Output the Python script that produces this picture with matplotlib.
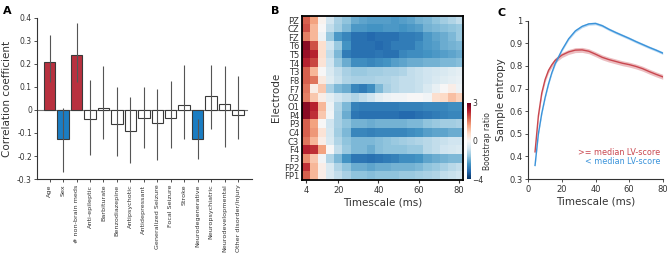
import numpy as np
import matplotlib
matplotlib.use("Agg")
import matplotlib.pyplot as plt
from matplotlib.colors import TwoSlopeNorm

# ---- panel A data ----
categories = ["Age", "Sex", "# non-brain meds", "Anti-epileptic", "Barbiturate",
              "Benzodiazepine", "Antipsychotic", "Antidepressant",
              "Generalized Seizure", "Focal Seizure", "Stroke",
              "Neurodegenerative", "Neuropsychiatric", "Neurodevelopmental",
              "Other disorder/injury"]
corr = [0.21, -0.127, 0.237, -0.039, 0.008, -0.062, -0.093, -0.034,
        -0.055, -0.034, 0.02, -0.127, 0.06, 0.024, -0.022]
ci_low = [0.12, -0.268, 0.12, -0.196, -0.126, -0.199, -0.229, -0.167,
          -0.217, -0.167, -0.127, -0.214, -0.084, -0.16, -0.127]
ci_high = [0.326, 0.01, 0.377, 0.13, 0.192, 0.1, 0.056, 0.1,
           0.092, 0.126, 0.195, -0.04, 0.196, 0.191, 0.148]
bar_kind = ["pos", "neg", "pos", "ns", "ns", "ns", "ns", "ns",
            "ns", "ns", "ns", "neg", "ns", "ns", "ns"]

# ---- panel B data ----
electrodes = ["PZ", "CZ", "FZ", "T6", "T5", "T4", "T3", "F8", "F7", "O2",
              "O1", "P4", "P3", "C4", "C3", "F4", "F3", "FP2", "FP1"]
timescales = [4, 8, 12, 16, 20, 24, 28, 32, 36, 40,
              44, 48, 52, 56, 60, 64, 68, 72, 76, 80]
bsr = [
    [1.8, 1.2, 0.1, -0.8, -1.3, -1.6, -2.0, -2.1, -2.2, -2.2, -2.2, -2.3, -2.2, -2.1, -1.9, -1.8, -1.6, -1.4, -1.2, -1.0],
    [1.9, 1.0, 0.0, -1.0, -1.4, -1.8, -2.3, -2.3, -2.4, -2.4, -2.3, -2.3, -2.4, -2.3, -2.2, -1.9, -1.8, -1.7, -1.6, -1.5],
    [1.5, 1.0, -0.2, -1.5, -2.3, -2.6, -3.0, -3.0, -3.1, -3.0, -3.0, -3.0, -2.8, -2.8, -2.7, -2.3, -2.1, -2.0, -1.8, -1.5],
    [2.7, 1.9, 0.5, -0.8, -1.5, -2.4, -3.0, -3.0, -3.0, -3.1, -3.0, -2.8, -2.8, -2.8, -2.5, -2.3, -2.2, -2.0, -1.9, -1.8],
    [2.6, 2.3, 0.5, -1.0, -1.8, -2.8, -3.0, -3.0, -3.0, -2.9, -3.0, -3.0, -2.6, -2.5, -2.5, -2.4, -2.3, -2.2, -2.1, -2.0],
    [2.3, 2.0, 0.4, -0.8, -1.5, -2.0, -2.5, -2.5, -2.6, -2.5, -2.4, -2.2, -2.1, -2.0, -2.0, -1.9, -1.9, -1.8, -1.8, -1.7],
    [1.8, 1.0, 0.0, -0.6, -1.0, -1.3, -1.5, -1.5, -1.4, -1.4, -1.3, -1.3, -1.2, -1.0, -0.9, -0.8, -0.7, -0.6, -0.5, -0.4],
    [1.8, 1.6, 0.3, -0.5, -0.9, -1.2, -1.3, -1.3, -1.3, -1.2, -1.2, -1.1, -1.0, -1.0, -0.9, -0.8, -0.6, -0.5, -0.4, -0.3],
    [1.6, 0.2, 0.8, -1.3, -1.8, -2.0, -2.6, -2.8, -2.5, -1.8, -1.3, -1.1, -1.0, -1.0, -0.9, -0.6, -0.3, 0.0, 0.2, -0.2],
    [1.5, 0.8, 0.2, -0.4, -0.8, -1.0, -1.2, -1.0, -0.8, -0.4, -0.2, -0.1, -0.1, 0.0, 0.0, -0.1, 0.5, 0.6, 0.9, 0.7],
    [2.7, 2.3, 1.0, -0.2, -1.2, -1.8, -2.7, -2.8, -2.8, -2.8, -2.8, -2.8, -2.7, -2.7, -2.7, -2.6, -2.6, -2.6, -2.5, -2.5],
    [2.7, 2.2, 0.8, -0.1, -1.3, -2.0, -2.9, -3.0, -3.0, -3.0, -3.0, -3.0, -3.1, -3.1, -3.0, -2.9, -2.8, -2.7, -2.6, -2.6],
    [1.8, 1.2, 0.0, -0.8, -1.3, -1.6, -1.9, -1.9, -2.0, -1.9, -1.9, -1.9, -1.9, -1.8, -1.8, -1.6, -1.5, -1.4, -1.4, -1.3],
    [1.8, 1.3, 0.4, -0.7, -1.4, -1.8, -2.6, -2.6, -2.7, -2.6, -2.6, -2.6, -2.6, -2.5, -2.4, -2.2, -2.1, -2.1, -2.0, -2.0],
    [1.6, 1.0, 0.2, -0.6, -1.2, -1.6, -1.8, -1.8, -1.8, -1.7, -1.6, -1.5, -1.4, -1.3, -1.2, -1.1, -1.0, -0.9, -0.8, -0.8],
    [2.3, 2.2, 1.2, 0.0, -1.0, -1.5, -1.8, -1.8, -2.0, -1.7, -1.6, -1.6, -1.6, -1.5, -1.5, -1.1, -1.0, -0.8, -0.7, -0.6],
    [1.4, 0.8, -0.1, -1.2, -1.8, -2.4, -2.9, -2.9, -3.0, -2.9, -2.8, -2.7, -2.5, -2.5, -2.4, -2.1, -2.0, -1.9, -1.8, -1.8],
    [2.2, 1.0, 0.2, -0.6, -1.2, -1.6, -2.0, -2.0, -2.1, -2.0, -2.0, -1.9, -1.9, -1.9, -1.8, -1.6, -1.5, -1.3, -1.1, -1.0],
    [1.8, 1.0, 0.2, -0.6, -1.0, -1.3, -1.6, -1.6, -1.7, -1.6, -1.6, -1.6, -1.5, -1.5, -1.4, -1.3, -1.2, -1.0, -0.9, -0.8],
]

# ---- panel C data ----
mse_scale = [4, 6, 8, 10, 12, 14, 16, 20, 24, 28, 32, 36, 40, 44, 48, 52,
             56, 60, 64, 68, 72, 76, 80]
mse_high = [0.42, 0.58, 0.68, 0.74, 0.78, 0.805, 0.825, 0.848, 0.862, 0.87,
            0.871, 0.865, 0.852, 0.838, 0.828, 0.82, 0.812, 0.806, 0.798,
            0.788, 0.775, 0.763, 0.752]
mse_low = [0.36, 0.5, 0.59, 0.66, 0.72, 0.77, 0.81, 0.87, 0.92, 0.955,
           0.975, 0.986, 0.988, 0.978, 0.962, 0.948, 0.935, 0.922, 0.908,
           0.895, 0.882, 0.87, 0.857]
sem_high = 0.011
sem_low = 0.006

RED = "#b8313f"
BLUE = "#1b7dc2"
LRED = "#c9474f"
LBLUE = "#3a93da"
TXT = "#333333"

plt.rcParams["font.family"] = ["DejaVu Sans"]
plt.rcParams["axes.edgecolor"] = TXT
plt.rcParams["xtick.color"] = TXT
plt.rcParams["ytick.color"] = TXT

fig = plt.figure(figsize=(6.69, 2.6), dpi=100)

# ---------------- A ----------------
axA = fig.add_axes([0.056, 0.3115, 0.321, 0.6195])
x = np.arange(1, len(categories) + 1)
colors = {"pos": RED, "neg": BLUE, "ns": "white"}
axA.bar(x, corr, width=0.85, color=[colors[k] for k in bar_kind],
        edgecolor="#3a3a3a", linewidth=0.8, zorder=2)
axA.vlines(x, ci_low, ci_high, color="#555555", linewidth=0.8, zorder=3)
axA.axhline(0, xmax=0.975, color="#777777", linewidth=0.8, zorder=1)
axA.set_xlim(0.1, 16.05)
axA.set_ylim(-0.3, 0.4)
axA.set_yticks([-0.3, -0.2, -0.1, 0, 0.1, 0.2, 0.3, 0.4])
axA.set_yticklabels(["-0.3", "-0.2", "-0.1", "0", "0.1", "0.2", "0.3", "0.4"])
axA.set_xticks(x)
axA.set_xticklabels(categories, rotation=90, fontsize=4.6)
axA.tick_params(axis="y", labelsize=5.5, length=2, width=0.6, pad=2)
axA.tick_params(axis="x", length=2, width=0.6, pad=2)
axA.spines["top"].set_visible(False)
axA.spines["right"].set_visible(False)
axA.set_ylabel("Correlation coefficient", fontsize=7.5, color=TXT)
axA.yaxis.set_label_coords(-0.12, 0.5)
fig.text(0.004, 0.975, "A", fontsize=8, fontweight="bold", va="top")

# ---------------- B ----------------
axB = fig.add_axes([0.4514, 0.3077, 0.2407, 0.632])
norm = TwoSlopeNorm(vmin=-4, vcenter=0, vmax=3)
im = axB.imshow(np.array(bsr), cmap="RdBu_r", norm=norm, aspect="auto",
                extent=[2, 82, len(electrodes), 0], interpolation="nearest")
axB.set_yticks(np.arange(len(electrodes)) + 0.5)
axB.set_yticklabels(electrodes)
axB.set_xticks([4, 20, 40, 60, 80])
axB.tick_params(axis="y", length=0, labelsize=6, pad=2)
axB.tick_params(axis="x", length=2, labelsize=6, pad=2)
for s in axB.spines.values():
    s.set_linewidth(1.3)
    s.set_color("black")
axB.set_ylabel("Electrode", fontsize=7.5, color=TXT, labelpad=2)
axB.set_xlabel("Timescale (ms)", fontsize=7.5, color=TXT, labelpad=2)
fig.text(0.405, 0.975, "B", fontsize=8, fontweight="bold", va="top")

cax = fig.add_axes([0.6976, 0.3104, 0.0066, 0.2946])
cb = fig.colorbar(im, cax=cax, ticks=[-4, 0, 3])
cb.outline.set_visible(False)
cb.ax.tick_params(labelsize=5.5, length=0, pad=1)
cb.set_label("Bootstrap ratio", fontsize=5.5, color=TXT)
cb.ax.yaxis.set_label_coords(3.6, 0.5)

# ---------------- C ----------------
axC = fig.add_axes([0.7897, 0.3115, 0.2009, 0.6088])
xs = np.array(mse_scale)
hi = np.array(mse_high)
lo = np.array(mse_low)
axC.fill_between(xs, hi - sem_high, hi + sem_high, color=LRED, alpha=0.35, lw=0)
axC.fill_between(xs, lo - sem_low, lo + sem_low, color=LBLUE, alpha=0.35, lw=0)
axC.plot(xs, hi, color=LRED, linewidth=1.0)
axC.plot(xs, lo, color=LBLUE, linewidth=1.0)
axC.set_xlim(0, 80)
axC.set_ylim(0.3, 1.0)
axC.set_xticks([0, 20, 40, 60, 80])
axC.set_yticks([0.3, 0.4, 0.5, 0.6, 0.7, 0.8, 0.9, 1.0])
axC.set_yticklabels(["0.3", "0.4", "0.5", "0.6", "0.7", "0.8", "0.9", "1"])
axC.tick_params(labelsize=6, length=2, width=0.6, pad=2)
axC.spines["top"].set_visible(False)
axC.spines["right"].set_visible(False)
axC.set_ylabel("Sample entropy", fontsize=7.5, color=TXT)
axC.yaxis.set_label_coords(-0.165, 0.5)
axC.set_xlabel("Timescale (ms)", fontsize=7.5, color=TXT, labelpad=2)
axC.text(0.98, 0.165, ">= median LV-score", transform=axC.transAxes,
         ha="right", va="center", fontsize=5.8, color=LRED)
axC.text(0.98, 0.11, "< median LV-score", transform=axC.transAxes,
         ha="right", va="center", fontsize=5.8, color=LBLUE)
fig.text(0.744, 0.97, "C", fontsize=8, fontweight="bold", va="top")

fig.savefig("out.png", dpi=100)
